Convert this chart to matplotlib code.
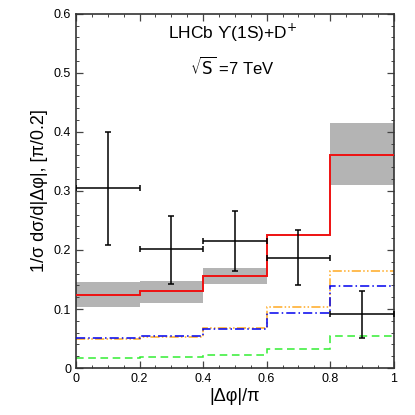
import matplotlib
matplotlib.use('Agg')
import matplotlib.pyplot as plt
import numpy as np
from matplotlib.ticker import MultipleLocator

plt.rcParams['font.family'] = ['Liberation Sans', 'DejaVu Sans']

# Bin edges in |dphi|/pi
edges = [0.0, 0.2, 0.4, 0.6, 0.8, 1.0]

# Theory curves (per bin)
total = [0.124, 0.130, 0.156, 0.226, 0.361]
band_low = [0.103, 0.111, 0.143, np.nan, 0.310]
band_high = [0.145, 0.148, 0.170, np.nan, 0.415]
orange = [0.049, 0.053, 0.068, 0.103, 0.165]
blue = [0.051, 0.054, 0.066, 0.094, 0.139]
green = [0.017, 0.018, 0.022, 0.032, 0.055]

# LHCb data
data_x = [0.1, 0.3, 0.5, 0.7, 0.9]
data_y = [0.305, 0.201, 0.215, 0.187, 0.091]
data_up = [0.400, 0.258, 0.266, 0.234, 0.130]
data_dn = [0.208, 0.143, 0.165, 0.140, 0.051]

xticks = [0, 0.2, 0.4, 0.6, 0.8, 1]
xtick_labels = ['0', '0.2', '0.4', '0.6', '0.8', '1']
yticks = [0, 0.1, 0.2, 0.3, 0.4, 0.5, 0.6]
ytick_labels = ['0', '0.1', '0.2', '0.3', '0.4', '0.5', '0.6']

fig = plt.figure(figsize=(4.15, 4.15), dpi=100)
ax = fig.add_axes([0.183, 0.113, 0.766, 0.854])

# grey uncertainty bands
for i in range(len(total)):
    if np.isnan(band_low[i]):
        continue
    ax.fill_between([edges[i], edges[i + 1]], band_low[i], band_high[i],
                    color='#b4b4b4', linewidth=0, zorder=1)

ax.stairs(green, edges, baseline=None, color='#33ee33', linestyle=(0, (5, 3)),
          linewidth=1.1, zorder=2)
ax.stairs(orange, edges, baseline=None, color='#ffaa22',
          linestyle=(0, (6, 1.5, 1, 1.5, 1, 1.5)), linewidth=1.1, zorder=2)
ax.stairs(blue, edges, baseline=None, color='#0000ee',
          linestyle=(0, (6, 2, 1, 2)), linewidth=1.1, zorder=3)
ax.stairs(total, edges, baseline=None, color='#ee1111', linewidth=1.4, zorder=4)

yerr = [np.array(data_y) - np.array(data_dn), np.array(data_up) - np.array(data_y)]
ax.errorbar(data_x, data_y, xerr=0.1, yerr=yerr, fmt='none', ecolor='black',
            elinewidth=1.1, capsize=2, capthick=1.1, zorder=5)

ax.text(0.494, 0.567, 'LHCb \u03d2(1S)+D$^{+}$', ha='center', va='center',
        fontsize=12.5)
ax.text(0.494, 0.510, r'$\sqrt{\mathrm{S}}$ =7 TeV', ha='center', va='center',
        fontsize=12)

ax.set_xlim(0, 1)
ax.set_ylim(0, 0.6)
ax.set_xticks(xticks)
ax.set_xticklabels(xtick_labels)
ax.set_yticks(yticks)
ax.set_yticklabels(ytick_labels)
ax.xaxis.set_minor_locator(MultipleLocator(0.05))
ax.yaxis.set_minor_locator(MultipleLocator(0.02))
ax.tick_params(which='both', direction='in', top=True, right=True,
               labelsize=9, color='#444444')
ax.tick_params(which='major', length=5, width=0.9)
ax.tick_params(which='minor', length=2.5, width=0.7)
for s in ax.spines.values():
    s.set_color('#333333')
    s.set_linewidth(1.2)

ax.set_xlabel('|\u0394\u03c6|/\u03c0', fontsize=13, labelpad=2)
ax.set_ylabel('1/\u03c3 d\u03c3/d|\u0394\u03c6|, [\u03c0/0.2]', fontsize=13)

fig.savefig('out.png', dpi=100)
